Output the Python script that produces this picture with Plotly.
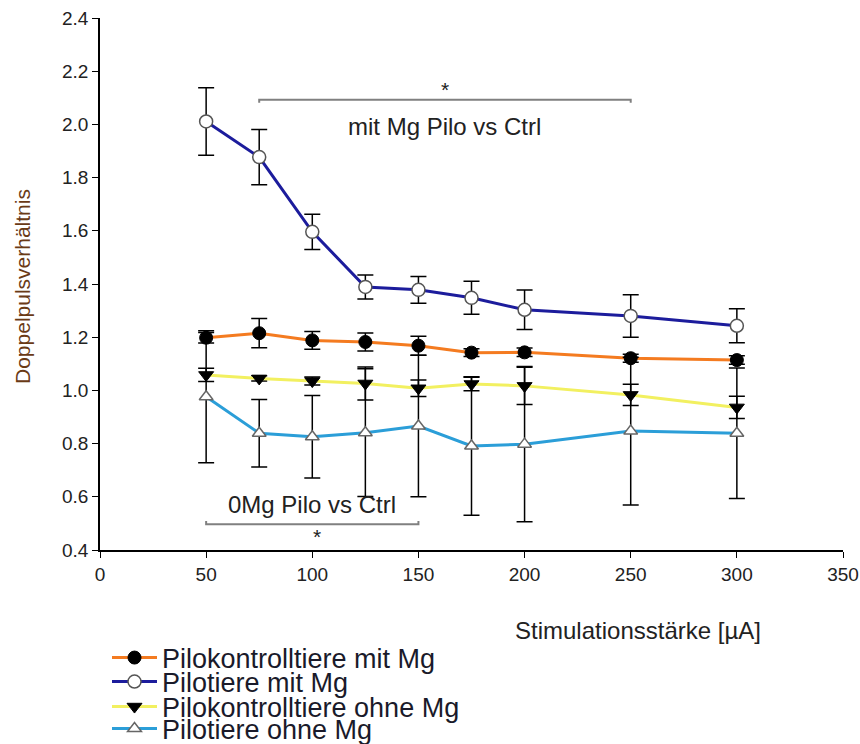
import plotly.graph_objects as go

stim = [50, 75, 100, 125, 150, 175, 200, 250, 300]

ctrl_mg = [1.198, 1.215, 1.188, 1.182, 1.168, 1.142, 1.143, 1.121, 1.114]
ctrl_mg_err = [0.020, 0.055, 0.033, 0.034, 0.036, 0.015, 0.016, 0.015, 0.016]

pilo_mg = [2.011, 1.877, 1.596, 1.389, 1.378, 1.348, 1.303, 1.280, 1.243]
pilo_mg_err = [0.127, 0.104, 0.066, 0.045, 0.050, 0.062, 0.074, 0.080, 0.064]

ctrl_0mg = [1.058, 1.045, 1.035, 1.026, 1.008, 1.024, 1.017, 0.983, 0.936]
ctrl_0mg_err = [0.025, 0.010, 0.015, 0.062, 0.031, 0.025, 0.070, 0.040, 0.042]

pilo_0mg = [0.976, 0.839, 0.826, 0.841, 0.866, 0.791, 0.798, 0.847, 0.839]
pilo_0mg_err = [0.248, 0.127, 0.155, 0.240, 0.266, 0.260, 0.292, 0.278, 0.245]

names = ["Pilokontrolltiere mit Mg", "Pilotiere mit Mg",
         "Pilokontrolltiere ohne Mg", "Pilotiere ohne Mg"]

x_ticks = [0, 50, 100, 150, 200, 250, 300, 350]
y_ticks = [0.4, 0.6, 0.8, 1.0, 1.2, 1.4, 1.6, 1.8, 2.0, 2.2, 2.4]

# significance brackets: x start, x end, y
bracket_mg = [75, 250, 2.093]
bracket_0mg = [50, 150, 0.497]

FONT = "Liberation Sans, Arial, sans-serif"
TXT = "#222222"

series = [
    (ctrl_mg, ctrl_mg_err, "#f47b20", dict(symbol="circle", color="black", size=13, line=dict(color="black", width=1))),
    (pilo_mg, pilo_mg_err, "#1c1c9c", dict(symbol="circle", color="white", size=13, line=dict(color="#555555", width=1.5))),
    (ctrl_0mg, ctrl_0mg_err, "#f2f060", dict(symbol="triangle-down", color="black", size=13, line=dict(color="black", width=1))),
    (pilo_0mg, pilo_0mg_err, "#2b9ed8", dict(symbol="triangle-up", color="white", size=12, line=dict(color="#666666", width=1.5))),
]

W, H = 860, 744
ml, mr, mt, mb = 100, 17, 18, 194
ph = H - mt - mb
pw = W - ml - mr


def px_x(p):
    return (p - ml) / pw


def px_y(p):
    return (H - mb - p) / ph


fig = go.Figure()
legend_ids = ["legend", "legend2", "legend3", "legend4"]
for i, ((vals, errs, col, mk), nm) in enumerate(zip(series, names)):
    fig.add_trace(go.Scatter(
        x=stim, y=vals, name=nm, mode="lines+markers",
        line=dict(color=col, width=3),
        marker=mk,
        error_y=dict(type="data", array=errs, visible=True, color="black", thickness=1.5, width=8),
        legend=legend_ids[i],
    ))

gray = "#808080"
for (x0, x1, yv), d in ((bracket_mg, -0.012), (bracket_0mg, 0.012)):
    fig.add_shape(type="path",
                  path=f"M {x0},{yv + d} L {x0},{yv} L {x1},{yv} L {x1},{yv + d}",
                  xref="x", yref="y", line=dict(color=gray, width=2))

anns = [
    dict(x=(bracket_mg[0] + bracket_mg[1]) / 2, y=bracket_mg[2], text="*", yshift=10, size=21),
    dict(x=(bracket_mg[0] + bracket_mg[1]) / 2, y=bracket_mg[2], text="mit Mg Pilo vs Ctrl", yshift=-27, size=24),
    dict(x=(bracket_0mg[0] + bracket_0mg[1]) / 2, y=bracket_0mg[2], text="0Mg Pilo vs Ctrl", yshift=20, size=24),
    dict(x=(bracket_0mg[0] + bracket_0mg[1]) / 2 + 2, y=bracket_0mg[2], text="*", yshift=-12, size=21),
]
for a in anns:
    fig.add_annotation(x=a["x"], y=a["y"], text=a["text"], xref="x", yref="y",
                       showarrow=False, yshift=a["yshift"], xanchor="center", yanchor="middle",
                       font=dict(family=FONT, size=a["size"], color=TXT))

fig.add_annotation(x=px_x(638), y=px_y(630), xref="paper", yref="paper",
                   text="Stimulationsstärke [µA]", xanchor="center", yanchor="middle",
                   showarrow=False, font=dict(family=FONT, size=24, color=TXT))
fig.add_annotation(x=px_x(22), y=px_y(287), xref="paper", yref="paper",
                   text="Doppelpulsverhältnis", textangle=-90, xanchor="center", yanchor="middle",
                   showarrow=False, font=dict(family=FONT, size=21, color="#6a3a16"))

legend_rows = [658, 682, 707, 729]
layout_legends = {}
for lid, py in zip(legend_ids, legend_rows):
    layout_legends[lid] = dict(
        x=px_x(107), y=px_y(py), xanchor="left", yanchor="middle",
        font=dict(family=FONT, size=27, color="#1a1a2a"),
        bgcolor="rgba(0,0,0,0)", itemwidth=45, tracegroupgap=0,
    )

fig.update_layout(
    width=W, height=H,
    margin=dict(l=ml, r=mr, t=mt, b=mb, autoexpand=False),
    plot_bgcolor="white", paper_bgcolor="white",
    font=dict(family=FONT, size=19, color=TXT),
    showlegend=True,
    **layout_legends,
    xaxis=dict(range=[0, 350], tickvals=x_ticks, showline=True, linecolor="black", linewidth=1.5,
               ticks="outside", ticklen=6, tickcolor="black", showgrid=False, zeroline=False,
               tickfont=dict(family=FONT, size=19, color=TXT)),
    yaxis=dict(range=[0.4, 2.4], tickvals=y_ticks, tickformat=".1f", showline=True,
               linecolor="black", linewidth=1.5, ticks="outside", ticklen=6, tickcolor="black",
               showgrid=False, zeroline=False,
               tickfont=dict(family=FONT, size=19, color=TXT)),
)

fig.write_html("out.html", config={"displayModeBar": False},
               post_script="document.body.style.margin='0';")
